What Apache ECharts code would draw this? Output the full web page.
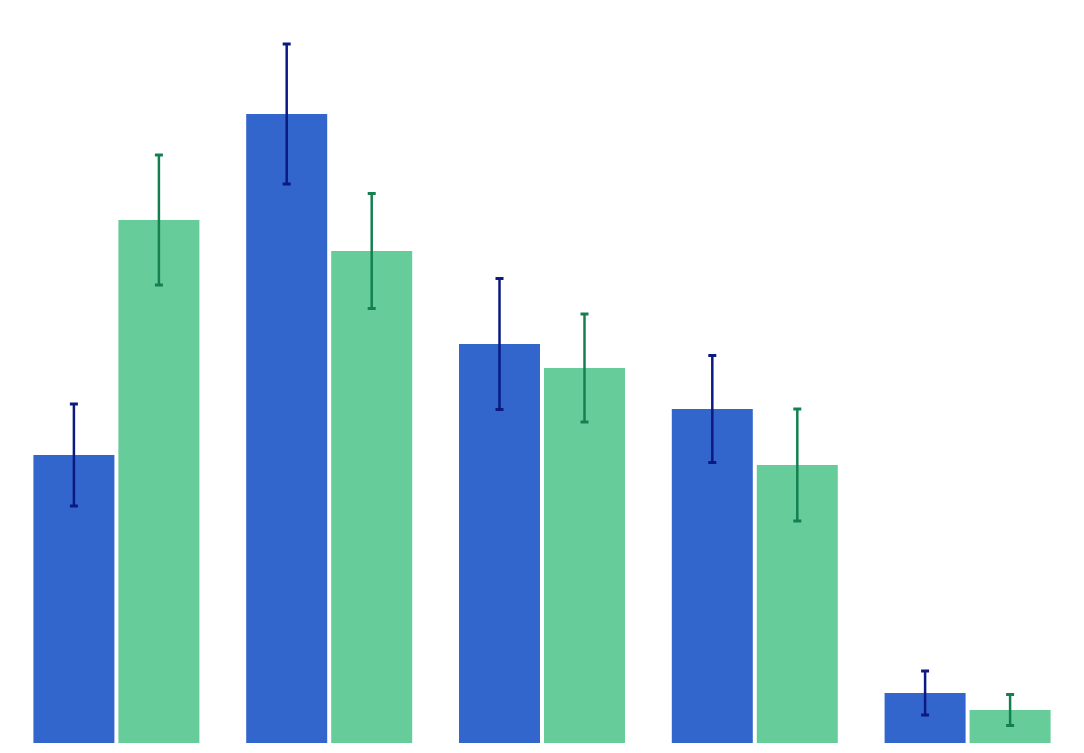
<!DOCTYPE html>
<html>
<head>
<meta charset="utf-8">
<script src="https://cdn.jsdelivr.net/npm/echarts@6/dist/echarts.min.js"></script>
<style>
  html, body { margin: 0; padding: 0; background: #fff; }
  #chart { width: 1084px; height: 753px; }
</style>
</head>
<body>
<div id="chart"></div>
<script>
const categories = ["A", "B", "C", "D", "E"];
const blueValues = [28.8, 62.9, 39.9, 33.4, 5.0];
const blueErrors = [5.1, 7.0, 6.55, 5.35, 2.2];
const greenValues = [52.3, 49.2, 37.5, 27.8, 3.3];
const greenErrors = [6.5, 5.75, 5.4, 5.6, 1.55];

const BAR_W = 81;
const BAR_GAP = 4;

const errorData = (vals, errs) =>
  vals.map((v, i) => [i, v - errs[i], v + errs[i]]);

const makeErrorSeries = (name, vals, errs, color, side) => ({
  name,
  type: "custom",
  data: errorData(vals, errs),
  z: 10,
  renderItem: (params, api) => {
    const i = api.value(0);
    const lo = api.coord([i, api.value(1)]);
    const hi = api.coord([i, api.value(2)]);
    const x = lo[0] + side * (BAR_W + BAR_GAP) / 2;
    const capW = 4;
    const style = { stroke: color, lineWidth: 2.5 };
    const capStyle = { stroke: color, lineWidth: 3 };
    return {
      type: "group",
      children: [
        { type: "line", shape: { x1: x, y1: hi[1], x2: x, y2: lo[1] }, style },
        { type: "line", shape: { x1: x - capW, y1: hi[1], x2: x + capW, y2: hi[1] }, style: capStyle },
        { type: "line", shape: { x1: x - capW, y1: lo[1], x2: x + capW, y2: lo[1] }, style: capStyle }
      ]
    };
  }
});

const chart = echarts.init(document.getElementById("chart"));
chart.setOption({
  animation: false,
  grid: { left: 10, right: 10, top: 10, bottom: 10 },
  xAxis: {
    type: "category",
    data: categories,
    show: false
  },
  yAxis: {
    type: "value",
    min: 0,
    max: 73.3,
    show: false,
    splitLine: { show: false }
  },
  series: [
    {
      name: "blue",
      type: "bar",
      data: blueValues,
      barWidth: BAR_W,
      barGap: (BAR_GAP / BAR_W * 100) + "%",
      itemStyle: { color: "#3366cc" }
    },
    {
      name: "green",
      type: "bar",
      data: greenValues,
      barWidth: BAR_W,
      itemStyle: { color: "#66cc99" }
    },
    makeErrorSeries("blueErr", blueValues, blueErrors, "#0a1a80", -1),
    makeErrorSeries("greenErr", greenValues, greenErrors, "#148050", 1)
  ]
});
</script>
</body>
</html>
